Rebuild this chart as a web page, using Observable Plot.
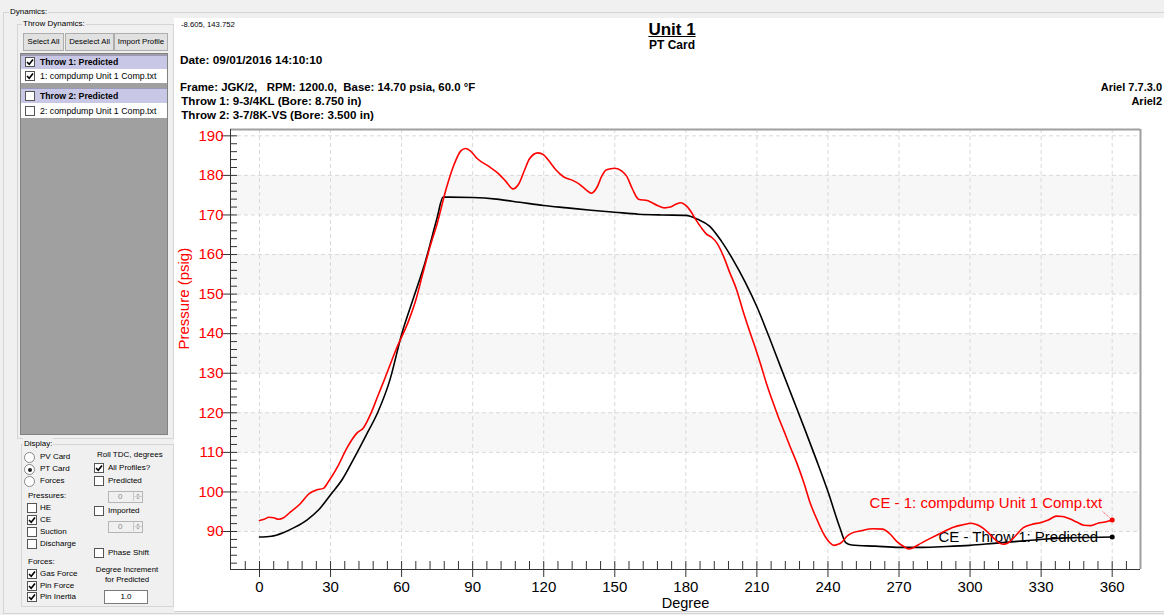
<!DOCTYPE html>
<html><head><meta charset="utf-8">
<script src="https://cdn.jsdelivr.net/npm/d3@7"></script>
<script src="https://cdn.jsdelivr.net/npm/@observablehq/plot@0.6"></script>
<style>
html,body{margin:0;padding:0;}
body{width:1164px;height:615px;overflow:hidden;background:#f0f0f0;position:relative;font-family:"Liberation Sans",Arial,sans-serif;color:#000;}
.a{position:absolute;white-space:pre;}
#plot{position:absolute;left:174px;top:120px;}
</style></head><body>
<script>
// ---------------- data ----------------
const degreeTicks = [0, 30, 60, 90, 120, 150, 180, 210, 240, 270, 300, 330, 360];
const pressureTicks = [90, 100, 110, 120, 130, 140, 150, 160, 170, 180, 190];
const bandLows = [90, 110, 130, 150, 170];

// CE - Throw 1: Predicted (black)
const predictedDeg = [0,5,10,15,20,25,30,35,40,45,50,55,60,65,70,75,77.5,80,90,100,110,120,130,140,150,160,170,180,185,190,195,200,205,210,215,220,225,230,235,240,245,247.5,250,260,270,280,290,300,310,320,330,340,350,360];
const predictedPsi = [88.6,88.8,89.7,91.1,92.9,95.5,99.3,103.2,108.6,114.3,120.2,128.2,139.8,149.0,158.2,169.3,174.5,174.5,174.4,174.0,173.2,172.4,171.8,171.2,170.7,170.2,170.0,169.9,168.9,167.2,163.4,158.6,153.1,146.8,139.4,131.6,123.9,116.2,108.3,100.1,91.0,87.2,86.6,86.3,86.0,86.0,86.2,86.5,87.0,87.5,88.0,88.4,88.5,88.6];

// CE - 1: compdump Unit 1 Comp.txt (red)
const measuredDeg = [0,2,4,6,8,10,13,17,21,24,27,29,33,37,41,44,47,50,53,58,63,66,69,72,75,79,82,85,87,89,92,97,101,104,107,109.5,112,114,117.5,120,122,125,128.5,132,135,138,140,142.5,144.5,146.5,150,153,155,157.5,160,164,168,171,173.5,176,178,180,182,184,186.5,188.5,191,193,196,198.5,201.5,204,207,209,211.5,214,217,219,221.5,224,227,230,232.5,235,238,240,242.5,244,246,248,250,254,259,263,266,269,272,274,276,278,283,288,293,297,300.5,303,306,309,312,314,316,319,322.5,326,330,333,336.5,339,342,345,348,351,354,357,360];
const measuredPsi = [92.8,93.1,93.6,93.5,93.1,93.4,94.9,96.9,99.6,100.5,100.9,102.5,106.4,111.2,114.8,116.3,119.8,124.3,128.8,136.5,143.3,148.5,155.3,162.0,167.8,177.0,182.5,186.2,186.8,186.2,184.2,182.2,180.4,178.5,176.6,177.9,181.5,184.2,185.7,185.2,183.8,181.5,179.6,178.8,177.8,176.3,175.5,177.0,179.8,181.4,181.8,181.1,179.8,176.5,174.0,173.6,172.4,171.8,172.0,172.8,173.1,172.4,171.0,169.0,166.8,165.3,164.3,163.0,159.4,155.5,151.0,146.0,140.5,137.0,132.4,127.5,122.3,119.0,115.3,111.5,107.1,102.0,97.2,93.5,89.6,87.7,86.5,86.7,87.4,88.8,89.6,90.2,90.7,90.6,89.5,87.5,86.2,85.6,85.9,86.6,88.2,89.7,91.1,91.7,92.1,91.7,90.6,88.9,87.2,86.8,87.1,88.8,91.0,91.8,92.3,92.9,93.9,93.8,93.2,92.4,91.6,91.5,92.1,92.4,92.9];

const seriesNames = ["CE - 1: compdump Unit 1 Comp.txt", "CE - Throw 1: Predicted"];
const seriesColors = ["#ff0000", "#000000"];

// ---------------- window chrome (left panel) ----------------
function el(css, txt) {
  const e = document.createElement("div");
  e.className = "a";
  e.style.cssText = css;
  if (txt != null) e.textContent = txt;
  document.body.appendChild(e);
  return e;
}
function label(x, cy, s, size, extra) {
  return el(`left:${x}px;top:${cy - 7}px;height:14px;line-height:14px;font-size:${size || 8}px;${extra || ""}`, s);
}
const tick = '<svg width="8" height="8" viewBox="0 0 8 8" style="position:absolute;left:0;top:0"><path d="M1 4 L3.2 6.2 L7 1.6" fill="none" stroke="#000" stroke-width="1.6"/></svg>';
function checkbox(x, cy, checked) {
  const b = el(`left:${x}px;top:${cy - 5}px;width:8px;height:8px;border:1px solid #555;background:#fff;`);
  if (checked) b.innerHTML = tick;
  return b;
}
function radio(cx, cy, checked) {
  const r = el(`left:${cx - 5}px;top:${cy - 5}px;width:9px;height:9px;border:1px solid #888;border-radius:50%;background:#fff;`);
  if (checked) r.innerHTML = '<div style="position:absolute;left:2.5px;top:2.5px;width:4px;height:4px;border-radius:50%;background:#222"></div>';
}
function groupBox(x, y, w, h, title, tx) {
  el(`left:${x}px;top:${y}px;width:${w}px;height:${h}px;border:1px solid #d5d5d5;`);
  label(tx, y, title, 8, "background:#f0f0f0;padding:0 1px;");
}
function button(x, y, w, h, s) {
  el(`left:${x}px;top:${y}px;width:${w}px;height:${h}px;border:1px solid #adadad;background:#e1e1e1;font-size:7.8px;line-height:${h}px;text-align:center;`, s);
}
function spinner(x, y) {
  el(`left:${x}px;top:${y}px;width:33px;height:10px;border:1px solid #b5b5b5;background:#f0f0f0;`);
  label(x + 10, y + 6, "0", 8, "color:#8a8a8a;");
  el(`left:${x + 25}px;top:${y + 1}px;width:8px;height:9px;border-left:1px solid #c8c8c8;`,
     null).innerHTML = '<svg width="8" height="9" style="position:absolute;left:0;top:0"><path d="M2 3.5 L4 1.5 L6 3.5Z M2 5.5 L4 7.5 L6 5.5Z" fill="#aaa"/><line x1="0" y1="4.5" x2="8" y2="4.5" stroke="#d0d0d0"/></svg>';
}

groupBox(3, 12, 1200, 600, "Dynamics:", 9);
groupBox(17, 24, 155, 413, "Throw Dynamics:", 22);
button(23, 33, 39, 16, "Select All");
button(65, 33, 47, 16, "Deselect All");
button(114, 33, 52, 16, "Import Profile");
el(`left:20px;top:53px;width:146px;height:380px;background:#a0a0a0;border:1px solid #828282;`);
el(`left:21px;top:55px;width:146px;height:13px;background:#c8c8e6;border-top:1px solid #9a9ab8;`);
el(`left:21px;top:69px;width:146px;height:14px;background:#fff;`);
el(`left:21px;top:88px;width:146px;height:14px;background:#c8c8e6;border-top:1px solid #9a9ab8;`);
el(`left:21px;top:103px;width:146px;height:15px;background:#fff;`);
checkbox(25, 61.5, true);  label(40, 61.5, "Throw 1: Predicted", 8.7, "font-weight:bold;");
checkbox(25, 76, true);    label(40, 76, "1: compdump Unit 1 Comp.txt", 8.8);
checkbox(25, 95.5, false); label(40, 95.5, "Throw 2: Predicted", 8.7, "font-weight:bold;");
checkbox(25, 110.5, false);label(40, 110.5, "2: compdump Unit 1 Comp.txt", 8.8);

groupBox(21, 444, 151, 161, "Display:", 23);
radio(29, 457, false); label(40, 457, "PV Card", 8);
radio(29, 469, true);  label(40, 469, "PT Card", 8);
radio(29, 481, false); label(40, 481, "Forces", 8);
label(28, 496, "Pressures:", 8);
checkbox(27, 508, false); label(40, 508, "HE", 8);
checkbox(27, 520, true);  label(40, 520, "CE", 8);
checkbox(27, 532, false); label(40, 532, "Suction", 8);
checkbox(27, 543.5, false); label(40, 543.5, "Discharge", 8);
label(28, 562, "Forces:", 8);
checkbox(27, 574, true); label(40, 574, "Gas Force", 8);
checkbox(27, 585.5, true); label(40, 585.5, "Pin Force", 8);
checkbox(27, 597, true); label(40, 597, "Pin Inertia", 8);
label(97, 455, "Roll TDC, degrees", 8);
checkbox(94, 468, true);  label(108, 468, "All Profiles?", 8);
checkbox(94, 481, false); label(108, 481, "Predicted", 8);
spinner(108, 491);
checkbox(94, 511, false); label(108, 511, "Imported", 8);
spinner(108, 521);
checkbox(94, 553, false); label(108, 553, "Phase Shift", 8);
el(`left:86px;top:565px;width:82px;font-size:7.8px;line-height:10px;text-align:center;`, "Degree Increment\nfor Predicted");
el(`left:104px;top:590px;width:42px;height:12px;border:1px solid #7a7a7a;background:#fff;font-size:8px;line-height:12px;text-align:center;`, "1.0");

// chart area
el(`left:174px;top:18px;width:990px;height:593px;background:#fff;border-bottom:1px solid #cfcfcf;`);
label(181, 25, "-8.605, 143.752", 7.7);
el(`left:572px;top:21px;width:200px;text-align:center;font-size:17px;line-height:18px;font-weight:bold;text-decoration:underline;`, "Unit 1");
el(`left:572px;top:38px;width:200px;text-align:center;font-size:12px;line-height:14px;font-weight:bold;`, "PT Card");
label(180, 60, "Date: 09/01/2016 14:10:10", 11.8, "font-weight:bold;");
label(180, 87, "Frame: JGK/2,   RPM: 1200.0,  Base: 14.70 psia, 60.0 \u00B0F", 11.4, "font-weight:bold;");
label(178, 101, " Throw 1: 9-3/4KL (Bore: 8.750 in)", 11.6, "font-weight:bold;");
label(178, 115, " Throw 2: 3-7/8K-VS (Bore: 3.500 in)", 11.6, "font-weight:bold;");
el(`left:1000px;top:80px;width:162px;height:14px;line-height:14px;text-align:right;font-size:11px;font-weight:bold;`, "Ariel 7.7.3.0");
el(`left:1000px;top:94px;width:162px;height:14px;line-height:14px;text-align:right;font-size:11px;font-weight:bold;`, "Ariel2");
</script>
<div id="plot"></div>
<script>
// ---------------- chart ----------------
const measured = measuredDeg.map((d, i) => ({deg: d, psi: measuredPsi[i]}));
const predicted = predictedDeg.map((d, i) => ({deg: d, psi: predictedPsi[i]}));
const lastMeasured = measured[measured.length - 1];
const lastPredicted = predicted[predicted.length - 1];

const W = 990, H = 491, mL = 56, mR = 24, mT = 9, mB = 42;
const FW = W - mL - mR, FH = H - mT - mB;
const xDomain = [-12.24, 371.95];
const yDomain = [80.4, 191.6];
const xMinor = d3.range(-6, 367, 6).filter(d => d % 30 !== 0);
const yMinor = d3.range(82, 190, 2).filter(d => d % 10 !== 0);

const leader = (index, scales) => {
  const x = scales.x(lastMeasured.deg), y = scales.y(lastMeasured.psi);
  const g = d3.create("svg:line")
    .attr("x1", x - 9).attr("y1", y - 8).attr("x2", x).attr("y2", y)
    .attr("stroke", seriesColors[0]).attr("stroke-width", 0.8).attr("stroke-dasharray", "1,1");
  return g.node();
};

const chart = Plot.plot({
  width: W, height: H,
  marginLeft: mL, marginRight: mR, marginTop: mT, marginBottom: mB,
  style: {fontFamily: "'Liberation Sans', Arial, sans-serif", fontSize: "15px", background: "transparent", overflow: "visible"},
  x: {domain: xDomain, axis: null},
  y: {domain: yDomain, axis: null},
  marks: [
    Plot.rect(bandLows, {x1: xDomain[0], x2: xDomain[1], y1: d => d, y2: d => d + 10, fill: "#f7f7f7"}),
    Plot.gridX(degreeTicks, {stroke: "#d9d9d9", strokeOpacity: 1, strokeDasharray: "4,3"}),
    Plot.gridY(pressureTicks, {stroke: "#d9d9d9", strokeOpacity: 1, strokeDasharray: "4,3"}),
    Plot.ruleY([yDomain[1]], {stroke: "#a0a0a0", strokeWidth: 2}),
    Plot.ruleX([xDomain[1]], {stroke: "#a0a0a0", strokeWidth: 2}),
    Plot.ruleX([xDomain[0]], {stroke: "#333"}),
    Plot.ruleY([yDomain[0]], {stroke: "#333"}),
    Plot.tickX(xMinor, {x: d => d, insetTop: FH - 8, stroke: "#333"}),
    Plot.tickX(degreeTicks, {x: d => d, insetTop: FH - 8, insetBottom: -8, stroke: "#333"}),
    Plot.tickY(yMinor, {y: d => d, insetRight: FW - 7, stroke: "#333"}),
    Plot.tickY(pressureTicks, {y: d => d, insetLeft: -9, insetRight: FW - 7, stroke: "#333"}),
    Plot.axisX({ticks: degreeTicks, tickSize: 0, tickPadding: 12, fontSize: 15, fill: "#000", label: null}),
    Plot.axisY({ticks: pressureTicks, tickSize: 0, tickPadding: 7, fontSize: 15, fill: "#ff0000", label: null}),
    Plot.text(["Degree"], {frameAnchor: "bottom", dy: 38.5, fontSize: 14.5, fill: "#000"}),
    Plot.text(["Pressure (psig)"], {frameAnchor: "left", rotate: -90, dx: -46, fontSize: 15, fill: "#ff0000"}),
    Plot.text([lastMeasured], {x: "deg", y: "psi", text: () => seriesNames[0], textAnchor: "end", dx: -10, dy: -17, fontSize: 15, fill: seriesColors[0]}),
    Plot.text([lastPredicted], {x: "deg", y: "psi", text: () => seriesNames[1], textAnchor: "end", dx: -14, dy: 0, fontSize: 15, fill: seriesColors[1]}),
    Plot.line(predicted, {x: "deg", y: "psi", stroke: seriesColors[1], strokeWidth: 1.6, curve: "monotone-x"}),
    Plot.line(measured, {x: "deg", y: "psi", stroke: seriesColors[0], strokeWidth: 1.6, curve: "monotone-x"}),
    leader,
    Plot.dot([lastPredicted], {x: "deg", y: "psi", r: 2.5, fill: seriesColors[1]}),
    Plot.dot([lastMeasured], {x: "deg", y: "psi", r: 2.5, fill: seriesColors[0]})
  ]
});
document.getElementById("plot").appendChild(chart);
</script>
</body></html>
